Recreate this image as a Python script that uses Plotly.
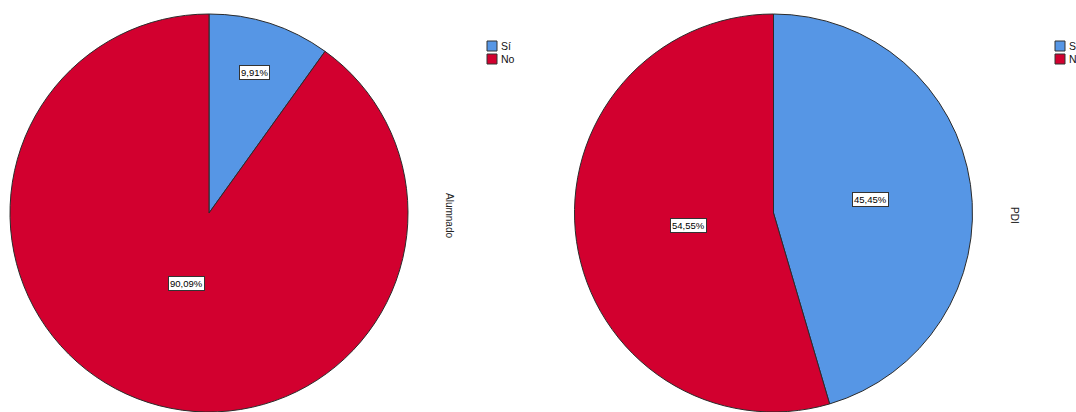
import math
import plotly.graph_objects as go

# Response categories and percentages for each group
categories = ["Sí", "No"]
alumnado_pct = [9.91, 90.09]
pdi_pct = [45.45, 54.55]

group_titles = ["Alumnado", "PDI"]

W, H = 1076, 412
BLUE = "#5696E5"
RED = "#D2002F"
OUTLINE = "#2b2b2b"
FONT = "Liberation Sans, Arial, sans-serif"
colors = [BLUE, RED]

# pie domains (paper fractions)
domains = [
    dict(x=[10 / W, 408 / W], y=[0, 398 / H]),
    dict(x=[574 / W, 973 / W], y=[0, 398 / H]),
]
# radial placement of the value boxes, as a fraction of the radius
label_radius = [[0.74, 0.37], [0.49, 0.43]]
# left edge (px) of each pie's key
legend_left = [487, 1055]

fig = go.Figure()
for i, vals in enumerate([alumnado_pct, pdi_pct]):
    fig.add_trace(go.Pie(
        labels=categories,
        values=vals,
        sort=False,
        direction="clockwise",
        rotation=0,
        marker=dict(colors=colors, line=dict(color=OUTLINE, width=1)),
        textinfo="none",
        hoverinfo="label+percent",
        domain=domains[i],
        showlegend=False,
    ))

    # value boxes placed along each slice's mid angle
    d = domains[i]
    cx = (d["x"][0] + d["x"][1]) / 2
    cy = (d["y"][0] + d["y"][1]) / 2
    radius_px = min((d["x"][1] - d["x"][0]) * W, (d["y"][1] - d["y"][0]) * H) / 2
    total = sum(vals)
    start = 0.0
    for j, v in enumerate(vals):
        mid = math.radians((start + v / 2) / total * 360)
        start += v
        r = radius_px * label_radius[i][j]
        fig.add_annotation(
            x=cx + r * math.sin(mid) / W,
            y=cy + r * math.cos(mid) / H,
            xref="paper", yref="paper",
            xanchor="center", yanchor="middle",
            text=f"{v:.2f}%".replace(".", ","),
            showarrow=False,
            font=dict(family=FONT, size=9.5, color="#000"),
            bgcolor="white",
            bordercolor="#333",
            borderwidth=1,
            borderpad=1,
        )

    # compact key: coloured squares with category names
    for j, cat in enumerate(categories):
        yc = 46 + 13 * j
        x0 = legend_left[i]
        fig.add_shape(
            type="rect", xref="paper", yref="paper",
            x0=x0 / W, x1=(x0 + 10) / W,
            y0=1 - (yc + 5) / H, y1=1 - (yc - 5) / H,
            fillcolor=colors[j], line=dict(color="#333", width=1),
        )
        fig.add_annotation(
            x=(x0 + 12) / W, y=1 - yc / H, xref="paper", yref="paper",
            xanchor="left", yanchor="middle",
            text=cat, showarrow=False,
            font=dict(family=FONT, size=10.5, color="#111"),
        )

# rotated group titles to the right of each pie
for title, xpx in zip(group_titles, [450, 1015]):
    fig.add_annotation(
        x=xpx / W, y=1 - 215 / H, xref="paper", yref="paper",
        xanchor="center", yanchor="middle",
        text=title, textangle=90, showarrow=False,
        font=dict(family=FONT, size=10, color="#222"),
    )

fig.update_layout(
    width=W, height=H,
    margin=dict(l=0, r=0, t=0, b=0),
    paper_bgcolor="white",
    plot_bgcolor="white",
    showlegend=False,
)

fig.write_html("out.html")
